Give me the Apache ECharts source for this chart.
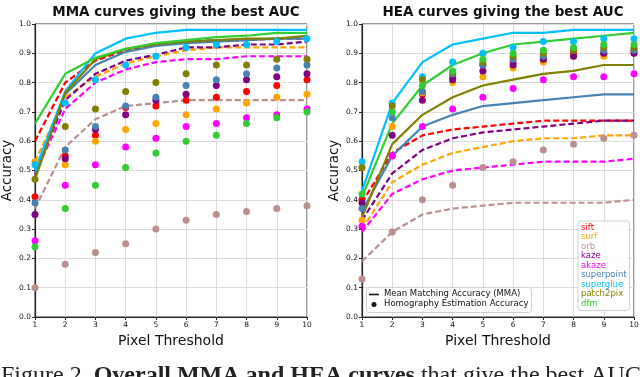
<!DOCTYPE html>
<html>
<head>
<meta charset="utf-8">
<script src="https://cdn.jsdelivr.net/npm/echarts@6/dist/echarts.min.js"></script>
<style>
  html, body { margin: 0; padding: 0; background: #fff; }
  #chart { width: 640px; height: 377px; }
</style>
</head>
<body>
<div id="chart"></div>
<script>
// pixel thresholds
const thresholds = [1, 2, 3, 4, 5, 6, 7, 8, 9, 10]
const methods = ['sift', 'surf', 'orb', 'kaze', 'akaze', 'superpoint', 'superglue', 'patch2pix', 'dfm']
const colors = ['#ff0000', '#ffa500', '#bc8f8f', '#800080', '#ff00ff', '#4682b4', '#00bfff', '#808000', '#32cd32']
const dashed = [true, true, true, true, true, false, false, false, false]

// left panel: MMA curves (lines) and HEA (dots)
const mmaLeft = {
  sift:       [0.60, 0.80, 0.875, 0.91, 0.93, 0.94, 0.945, 0.945, 0.95, 0.95],
  surf:       [0.53, 0.75, 0.82, 0.865, 0.89, 0.91, 0.92, 0.92, 0.92, 0.92],
  orb:        [0.37, 0.58, 0.675, 0.72, 0.73, 0.74, 0.74, 0.74, 0.74, 0.74],
  kaze:       [0.49, 0.74, 0.83, 0.875, 0.895, 0.92, 0.92, 0.93, 0.93, 0.94],
  akaze:      [0.49, 0.71, 0.80, 0.845, 0.87, 0.88, 0.88, 0.89, 0.89, 0.89],
  superpoint: [0.49, 0.76, 0.86, 0.905, 0.925, 0.935, 0.94, 0.945, 0.95, 0.95],
  superglue:  [0.50, 0.77, 0.90, 0.95, 0.97, 0.98, 0.98, 0.98, 0.98, 0.98],
  patch2pix:  [0.47, 0.765, 0.88, 0.915, 0.93, 0.94, 0.945, 0.95, 0.95, 0.96],
  dfm:        [0.66, 0.83, 0.885, 0.915, 0.935, 0.945, 0.955, 0.96, 0.97, 0.97]
}
const heaLeft = {
  sift:       [0.41, 0.55, 0.62, 0.715, 0.72, 0.74, 0.75, 0.77, 0.79, 0.81],
  surf:       [0.53, 0.52, 0.60, 0.64, 0.66, 0.69, 0.71, 0.73, 0.75, 0.76],
  orb:        [0.10, 0.18, 0.22, 0.25, 0.30, 0.33, 0.35, 0.36, 0.37, 0.38],
  kaze:       [0.35, 0.54, 0.64, 0.69, 0.74, 0.76, 0.79, 0.81, 0.82, 0.83],
  akaze:      [0.26, 0.45, 0.52, 0.58, 0.61, 0.65, 0.66, 0.68, 0.69, 0.71],
  superpoint: [0.39, 0.57, 0.65, 0.72, 0.75, 0.79, 0.81, 0.83, 0.85, 0.86],
  superglue:  [0.52, 0.73, 0.81, 0.86, 0.89, 0.92, 0.93, 0.93, 0.94, 0.95],
  patch2pix:  [0.47, 0.65, 0.71, 0.77, 0.80, 0.83, 0.86, 0.86, 0.88, 0.88],
  dfm:        [0.24, 0.37, 0.45, 0.51, 0.56, 0.60, 0.62, 0.66, 0.68, 0.70]
}

// right panel: MMA curves (lines) and HEA (dots)
const mmaRight = {
  sift:       [0.39, 0.56, 0.62, 0.64, 0.65, 0.66, 0.67, 0.67, 0.67, 0.67],
  surf:       [0.30, 0.46, 0.52, 0.56, 0.58, 0.60, 0.61, 0.61, 0.62, 0.62],
  orb:        [0.19, 0.29, 0.35, 0.37, 0.38, 0.39, 0.39, 0.39, 0.39, 0.40],
  kaze:       [0.33, 0.49, 0.57, 0.61, 0.63, 0.64, 0.65, 0.66, 0.67, 0.67],
  akaze:      [0.29, 0.42, 0.47, 0.50, 0.51, 0.52, 0.53, 0.53, 0.53, 0.54],
  superpoint: [0.36, 0.55, 0.65, 0.69, 0.72, 0.73, 0.74, 0.75, 0.76, 0.76],
  superglue:  [0.43, 0.73, 0.87, 0.93, 0.95, 0.97, 0.97, 0.98, 0.98, 0.98],
  patch2pix:  [0.34, 0.59, 0.69, 0.75, 0.79, 0.81, 0.83, 0.84, 0.86, 0.86],
  dfm:        [0.41, 0.66, 0.79, 0.86, 0.90, 0.93, 0.94, 0.95, 0.96, 0.97]
}
const heaRight = {
  sift:       [0.40, 0.55, 0.76, 0.82, 0.86, 0.87, 0.88, 0.90, 0.90, 0.91],
  surf:       [0.33, 0.65, 0.765, 0.80, 0.82, 0.85, 0.87, 0.89, 0.89, 0.90],
  orb:        [0.13, 0.29, 0.40, 0.45, 0.51, 0.53, 0.57, 0.59, 0.61, 0.62],
  kaze:       [0.39, 0.62, 0.74, 0.81, 0.84, 0.86, 0.88, 0.89, 0.90, 0.90],
  akaze:      [0.31, 0.55, 0.65, 0.71, 0.75, 0.78, 0.81, 0.82, 0.82, 0.83],
  superpoint: [0.37, 0.68, 0.77, 0.83, 0.86, 0.88, 0.89, 0.91, 0.91, 0.91],
  superglue:  [0.53, 0.73, 0.82, 0.87, 0.90, 0.92, 0.94, 0.94, 0.95, 0.95],
  patch2pix:  [0.51, 0.72, 0.81, 0.835, 0.87, 0.89, 0.90, 0.91, 0.92, 0.92],
  dfm:        [0.42, 0.70, 0.79, 0.84, 0.88, 0.90, 0.91, 0.92, 0.93, 0.93]
}

const yTicks = [0.0, 0.1, 0.2, 0.3, 0.4, 0.5, 0.6, 0.7, 0.8, 0.9, 1.0]

const chart = echarts.init(document.getElementById('chart'))

const font = 'DejaVu Sans'
const pts = arr => thresholds.map((t, j) => [t, arr[j]])

const series = []
;[[mmaLeft, heaLeft], [mmaRight, heaRight]].forEach(([mma, hea], g) => {
  methods.forEach((m, i) => {
    series.push({
      name: m,
      type: 'line',
      xAxisIndex: g,
      yAxisIndex: g,
      data: pts(mma[m]),
      symbol: 'none',
      silent: true,
      lineStyle: { color: colors[i], width: 2.2, type: dashed[i] ? [6, 3] : 'solid' },
      itemStyle: { color: colors[i] },
      z: 2
    })
  })
  methods.forEach((m, i) => {
    series.push({
      name: m,
      type: 'scatter',
      xAxisIndex: g,
      yAxisIndex: g,
      data: pts(hea[m]),
      symbolSize: 7,
      silent: true,
      itemStyle: { color: colors[i], opacity: 1 },
      z: 3
    })
  })
})

const makeX = g => ({
  type: 'value',
  gridIndex: g,
  min: 1,
  max: 10,
  interval: 1,
  name: 'Pixel Threshold',
  nameLocation: 'middle',
  nameGap: 14,
  nameTextStyle: { fontFamily: font, fontSize: 14, color: '#111', verticalAlign: 'top' },
  axisLine: { lineStyle: { color: '#222', width: 1.2 } },
  axisTick: { length: 3, lineStyle: { color: '#222' } },
  axisLabel: { fontFamily: font, fontSize: 7.5, color: '#111', margin: 4 },
  splitLine: { lineStyle: { color: '#dcdcdc', width: 1 } }
})
const makeY = g => ({
  type: 'value',
  gridIndex: g,
  min: 0,
  max: 1,
  interval: 0.1,
  name: 'Accuracy',
  nameLocation: 'middle',
  nameGap: 21,
  nameTextStyle: { fontFamily: font, fontSize: 13.5, color: '#111' },
  axisLine: { show: true, lineStyle: { color: '#222', width: 1.2 } },
  axisTick: { show: true, length: 3, lineStyle: { color: '#222' } },
  axisLabel: {
    fontFamily: font, fontSize: 7.5, color: '#111', margin: 4,
    formatter: v => yTicks.includes(Math.round(v * 10) / 10) ? v.toFixed(1) : ''
  },
  splitLine: { lineStyle: { color: '#dcdcdc', width: 1 } }
})

chart.setOption({
  animation: false,
  backgroundColor: '#fff',
  title: [
    { text: 'MMA curves giving the best AUC', left: 171, top: 0, textAlign: 'center',
      textStyle: { fontFamily: font, fontSize: 13.5, fontWeight: 'bold', color: '#111' } },
    { text: 'HEA curves giving the best AUC', left: 498, top: 0, textAlign: 'center',
      textStyle: { fontFamily: font, fontSize: 13.5, fontWeight: 'bold', color: '#111' } }
  ],
  grid: [
    { left: 35, right: 333, top: 24, bottom: 60, outerBoundsMode: 'none', show: true, borderColor: '#333', borderWidth: 1, backgroundColor: 'transparent' },
    { left: 362, right: 6, top: 24, bottom: 60, outerBoundsMode: 'none', show: true, borderColor: '#333', borderWidth: 1, backgroundColor: 'transparent' }
  ],
  xAxis: [makeX(0), makeX(1)],
  yAxis: [makeY(0), makeY(1)],
  legend: {
    orient: 'vertical',
    left: 578,
    top: 221,
    itemWidth: 0,
    itemHeight: 0,
    itemGap: 0,
    selectedMode: false,
    padding: [2, 3, 2, 3],
    backgroundColor: 'rgba(255,255,255,0.85)',
    borderColor: '#d0d0d0',
    borderWidth: 1,
    borderRadius: 3,
    data: methods.map((m, i) => ({
      name: m,
      icon: 'none',
      textStyle: { color: colors[i], fontFamily: font, fontSize: 8.5, lineHeight: 9.5, padding: [0, 0, 0, -5] }
    }))
  },
  graphic: [
    {
      type: 'rect', left: 366, top: 287, z: 10,
      shape: { width: 165, height: 25, r: 3 },
      style: { fill: 'rgba(255,255,255,0.9)', stroke: '#d0d0d0', lineWidth: 1 }
    },
    {
      type: 'line', z: 11,
      shape: { x1: 369, y1: 294.5, x2: 379, y2: 294.5 },
      style: { stroke: '#111', lineWidth: 1.6 }
    },
    {
      type: 'circle', z: 11,
      shape: { cx: 374, cy: 304.5, r: 2.5 },
      style: { fill: '#111' }
    },
    {
      type: 'text', left: 384, top: 289.5, z: 11,
      style: { text: 'Mean Matching Accuracy (MMA)', fontFamily: font, fontSize: 8.5, fill: '#111' }
    },
    {
      type: 'text', left: 384, top: 299.5, z: 11,
      style: { text: 'Homography Estimation Accuracy', fontFamily: font, fontSize: 8.5, fill: '#111' }
    },
    {
      type: 'text', left: 1, top: 364, z: 11,
      style: {
        text: '{n|Figure 2. }{b|Overall MMA and HEA curves}{n| that give the best AUC}',
        rich: {
          n: { fontFamily: 'Liberation Serif', fontSize: 24, fill: '#222' },
          b: { fontFamily: 'Liberation Serif', fontSize: 24, fontWeight: 'bold', fill: '#222' }
        }
      }
    }
  ],
  series: series
})
</script>
</body>
</html>
